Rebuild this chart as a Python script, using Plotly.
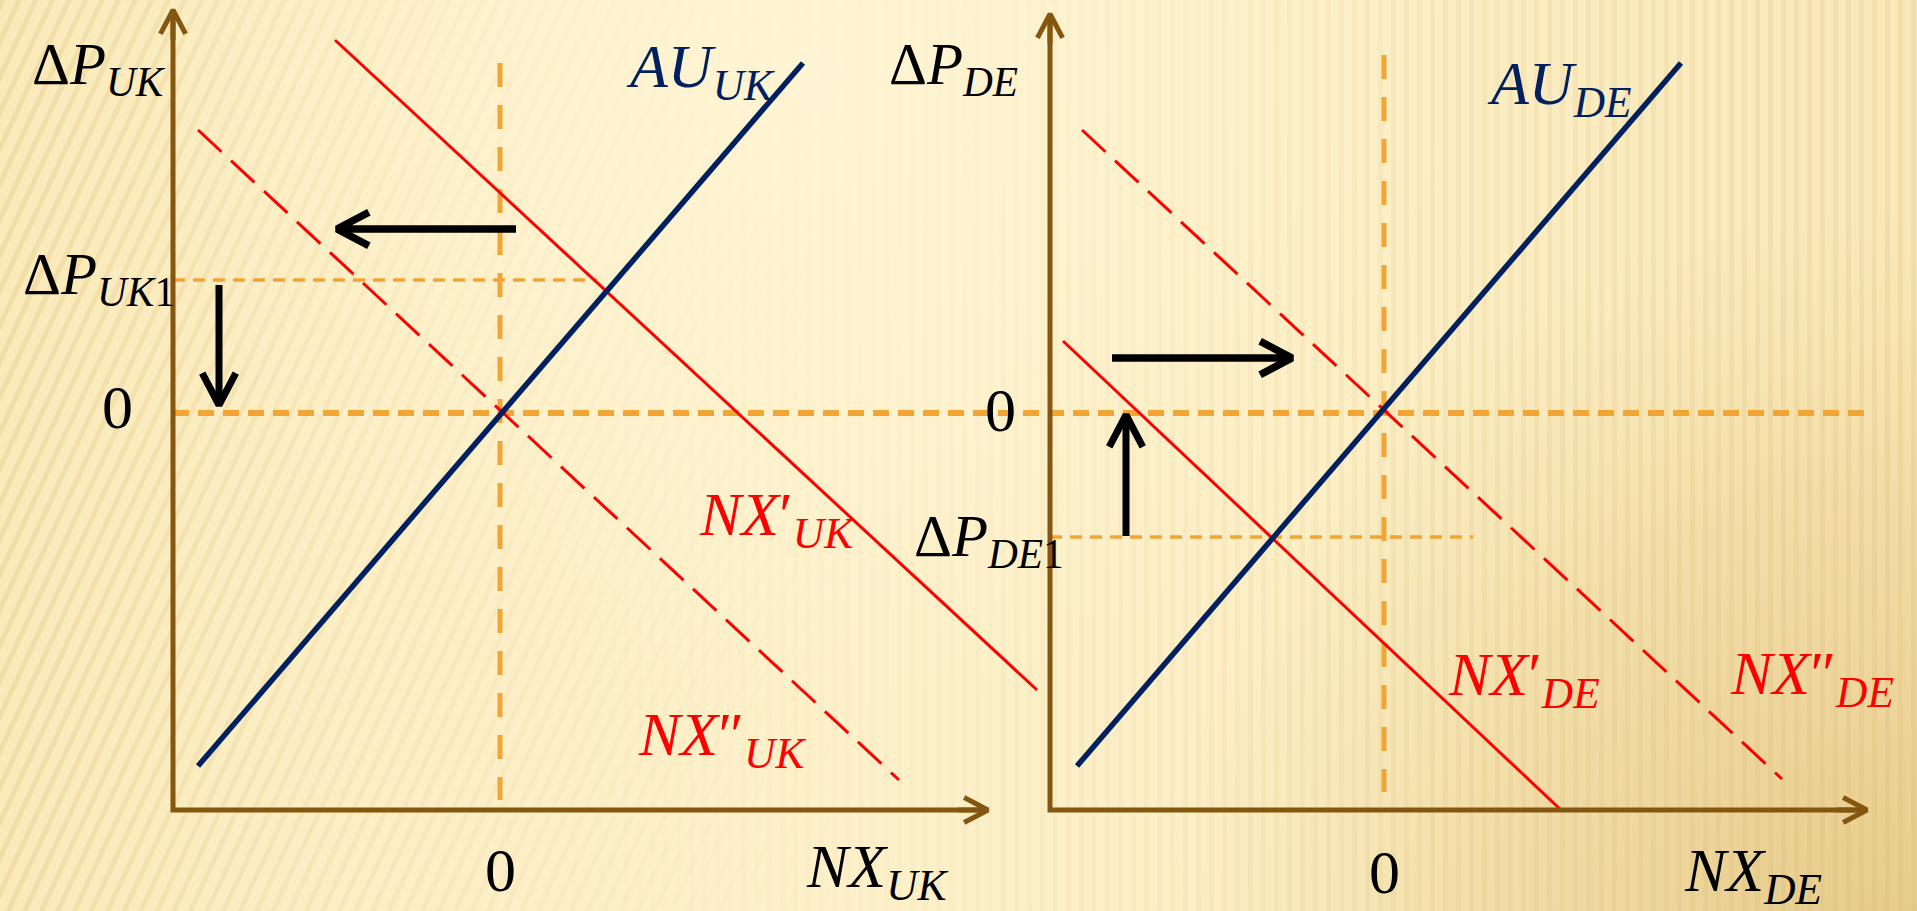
import base64
import plotly.graph_objects as go

# ---------------------------------------------------------------------------
# DATA  (diagram units; each panel has its own origin
#        at the point NX = 0, dP = 0; one unit is the same length on x and y)
# ---------------------------------------------------------------------------
# --- UK panel ---
uk_axis_x = [-3.27, -3.27, 4.88]          # y-axis top -> corner -> x-axis end
uk_axis_y = [4.03, -3.97, -3.97]
au_uk_x = [-3.02, 3.03]
au_uk_y = [-3.53, 3.50]
nx1_uk_x = [-1.65, 5.37]                  # NX'_UK (solid)
nx1_uk_y = [3.73, -2.77]
nx2_uk_x = [-3.02, 3.99]                  # NX''_UK (dashed)
nx2_uk_y = [2.83, -3.67]
uk_zero_v_y = [3.50, -3.87]               # NX_UK = 0 guide
zero_h_x = [-3.27, 13.69]                 # dP = 0 guide (runs across both panels)
dp_uk1 = 1.33                              # dP_UK1 level
dp_uk1_x = [-3.27, 0.97]
uk_shift_x = [0.16, -1.63]                # NX curve shift arrow (left)
uk_shift_y = 1.84
uk_price_x = -2.81                        # price change arrow (down)
uk_price_y = [1.28, 0.08]

# --- DE panel ---
de_axis_x = [-3.34, -3.34, 4.83]
de_axis_y = [3.99, -3.97, -3.97]
au_de_x = [-3.07, 2.97]
au_de_y = [-3.53, 3.50]
nx1_de_x = [-3.21, 1.77]                  # NX'_DE (solid)
nx1_de_y = [0.72, -3.97]
nx2_de_x = [-3.02, 3.98]                  # NX''_DE (dashed)
nx2_de_y = [2.83, -3.66]
de_zero_v_y = [3.58, -3.79]
dp_de1 = -1.24                             # dP_DE1 level
dp_de1_x = [-3.34, 0.89]
de_shift_x = [-2.72, -0.92]               # NX curve shift arrow (right)
de_shift_y = 0.55
de_price_x = -2.58                        # price change arrow (up)
de_price_y = [-1.23, -0.02]

# ---------------------------------------------------------------------------
# STYLE
# ---------------------------------------------------------------------------
W, H = 1917, 911
BROWN = "#84560F"
ORANGE = "#F0A535"
RED = "#FF0000"
NAVY = "#002060"
FONT = "Liberation Serif, DejaVu Serif, serif"

# background: cream gradient with fine stripes (PowerPoint-like theme)
svg = f'''<svg xmlns="http://www.w3.org/2000/svg" width="{W}" height="{H}" viewBox="0 0 {W} {H}">
<defs>
<linearGradient id="base" x1="0" y1="0" x2="1" y2="0">
<stop offset="0" stop-color="#FAEABA"/>
<stop offset="0.15" stop-color="#FCEEC4"/>
<stop offset="0.40" stop-color="#FDF1CB"/>
<stop offset="0.70" stop-color="#FCEFC6"/>
<stop offset="1" stop-color="#F9E8B9"/>
</linearGradient>
<radialGradient id="dark" gradientUnits="userSpaceOnUse" cx="1880" cy="930" r="720">
<stop offset="0" stop-color="#E4C886" stop-opacity="0.9"/>
<stop offset="0.6" stop-color="#EAD194" stop-opacity="0.5"/>
<stop offset="1" stop-color="#EED9A0" stop-opacity="0"/>
</radialGradient>
<radialGradient id="glow" gradientUnits="userSpaceOnUse" cx="800" cy="80" r="650">
<stop offset="0" stop-color="#FFF6D6" stop-opacity="0.8"/>
<stop offset="1" stop-color="#FFF6D6" stop-opacity="0"/>
</radialGradient>
<pattern id="diag" width="15" height="40" patternUnits="userSpaceOnUse" patternTransform="rotate(25)">
<rect x="0" y="0" width="5" height="40" fill="#D2AE5E"/>
</pattern>
<pattern id="vert" width="13" height="40" patternUnits="userSpaceOnUse">
<rect x="0" y="0" width="5" height="40" fill="#D2AE5E"/>
</pattern>
<linearGradient id="gL" x1="0" y1="0" x2="1" y2="0">
<stop offset="0" stop-color="#ffffff"/>
<stop offset="0.12" stop-color="#aaaaaa"/>
<stop offset="0.45" stop-color="#000000"/>
</linearGradient>
<linearGradient id="gR" x1="0" y1="0" x2="1" y2="0">
<stop offset="0.25" stop-color="#000000"/>
<stop offset="0.6" stop-color="#888888"/>
<stop offset="1" stop-color="#ffffff"/>
</linearGradient>
<mask id="mL"><rect width="{W}" height="{H}" fill="url(#gL)"/></mask>
<mask id="mR"><rect width="{W}" height="{H}" fill="url(#gR)"/></mask>
</defs>
<rect width="{W}" height="{H}" fill="url(#base)"/>
<rect width="{W}" height="{H}" fill="url(#dark)"/>
<rect width="{W}" height="{H}" fill="url(#diag)" opacity="0.22" mask="url(#mL)"/>
<rect width="{W}" height="{H}" fill="url(#vert)" opacity="0.17" mask="url(#mR)"/>
<rect width="{W}" height="{H}" fill="url(#glow)"/>
</svg>'''
bg_src = "data:image/svg+xml;base64," + base64.b64encode(svg.encode()).decode()

fig = go.Figure()


def line(xs, ys, color, width, dash="solid", xa="x"):
    fig.add_trace(go.Scatter(x=xs, y=ys, mode="lines", xaxis=xa, yaxis="y",
                             line=dict(color=color, width=width, dash=dash),
                             hoverinfo="skip", showlegend=False))


def arrow(x0, y0, x1, y1, color, width, head, xa="x"):
    """Shaft from (x0,y0) to tip (x1,y1) with an open chevron head."""
    dx, dy = x1 - x0, y1 - y0
    n = (dx * dx + dy * dy) ** 0.5
    ux, uy = dx / n, dy / n
    c, s = 0.885, 0.466          # cos / sin of the half-angle of the head
    ax1 = x1 - head * (ux * c - uy * s)
    ay1 = y1 - head * (uy * c + ux * s)
    ax2 = x1 - head * (ux * c + uy * s)
    ay2 = y1 - head * (uy * c - ux * s)
    line([x0, x1], [y0, y1], color, width, xa=xa)
    line([ax1, x1, ax2], [ay1, y1, ay2], color, width, xa=xa)


# ----- guides (orange dashed) -----
line(zero_h_x, [0, 0], ORANGE, 6, "16px,9px")
line([0, 0], uk_zero_v_y, ORANGE, 5, "24px,18px")
line([0, 0], de_zero_v_y, ORANGE, 5, "24px,18px", xa="x2")
line(dp_uk1_x, [dp_uk1, dp_uk1], ORANGE, 3.5, "12px,8px")
line(dp_de1_x, [dp_de1, dp_de1], ORANGE, 3.5, "12px,8px", xa="x2")

# ----- curves -----
line(nx1_uk_x, nx1_uk_y, RED, 3)
line(nx2_uk_x, nx2_uk_y, RED, 3, "32px,13px")
line(au_uk_x, au_uk_y, NAVY, 5.5)
line(nx1_de_x, nx1_de_y, RED, 3, xa="x2")
line(nx2_de_x, nx2_de_y, RED, 3, "32px,13px", xa="x2")
line(au_de_x, au_de_y, NAVY, 5.5, xa="x2")

# ----- axes with arrow heads -----
line(uk_axis_x, uk_axis_y, BROWN, 5)
arrow(uk_axis_x[0], uk_axis_y[0] - 0.3, uk_axis_x[0], uk_axis_y[0], BROWN, 5, 0.27)
arrow(uk_axis_x[2] - 0.3, uk_axis_y[2], uk_axis_x[2], uk_axis_y[2], BROWN, 5, 0.27)
line(de_axis_x, de_axis_y, BROWN, 5, xa="x2")
arrow(de_axis_x[0], de_axis_y[0] - 0.3, de_axis_x[0], de_axis_y[0], BROWN, 5, 0.27, xa="x2")
arrow(de_axis_x[2] - 0.3, de_axis_y[2], de_axis_x[2], de_axis_y[2], BROWN, 5, 0.27, xa="x2")

# ----- black shift arrows -----
arrow(uk_shift_x[0], uk_shift_y, uk_shift_x[1], uk_shift_y, "black", 7.5, 0.36)
arrow(uk_price_x, uk_price_y[0], uk_price_x, uk_price_y[1], "black", 7, 0.36)
arrow(de_shift_x[0], de_shift_y, de_shift_x[1], de_shift_y, "black", 7.5, 0.36, xa="x2")
arrow(de_price_x, de_price_y[0], de_price_x, de_price_y[1], "black", 7, 0.36, xa="x2")

# ----- labels -----
def label(text, x, y, size, color="black", xa="x", xanchor="left"):
    fig.add_annotation(text=text, x=x, y=y, xref=xa, yref="y", showarrow=False,
                       xanchor=xanchor, yanchor="top",
                       font=dict(family=FONT, size=size, color=color))


it = lambda s: f"<i>{s}</i>"
# UK panel
label("Δ" + it("P") + "<sub>" + it("UK") + "</sub>", -4.70, 3.84, 59)
label(it("AU") + "<sub>" + it("UK") + "</sub>", 1.24, 3.83, 62, NAVY)
label("Δ" + it("P") + "<sub>" + it("UK") + "1</sub>", -4.79, 1.74, 59)
label("0", -3.83, 0.42, 62, xanchor="center")
label("0", 0.0, -4.21, 62, xanchor="center")
label(it("NX") + "<sub>" + it("UK") + "</sub>", 3.04, -4.17, 62)
label(it("NX") + "′<sub>" + it("UK") + "</sub>", 1.97, -0.65, 62, RED)
label(it("NX") + "″<sub>" + it("UK") + "</sub>", 1.36, -2.85, 62, RED)
# DE panel
label("Δ" + it("P") + "<sub>" + it("DE") + "</sub>", -4.97, 3.84, 59, xa="x2")
label(it("AU") + "<sub>" + it("DE") + "</sub>", 1.01, 3.66, 62, NAVY, xa="x2")
label("0", -3.84, 0.39, 62, xa="x2", xanchor="center")
label("Δ" + it("P") + "<sub>" + it("DE") + "1</sub>", -4.72, -0.88, 59, xa="x2")
label(it("NX") + "′<sub>" + it("DE") + "</sub>", 0.62, -2.25, 62, RED, xa="x2")
label(it("NX") + "″<sub>" + it("DE") + "</sub>", 3.44, -2.24, 62, RED, xa="x2")
label("0", 0.0, -4.23, 62, xa="x2", xanchor="center")
label(it("NX") + "<sub>" + it("DE") + "</sub>", 2.98, -4.21, 62, xa="x2")

# ----- layout: both panels share the y scale; x axes overlay, equal units -----
ax_common = dict(visible=False, showgrid=False, zeroline=False, fixedrange=True)
fig.update_layout(
    width=W, height=H, margin=dict(l=0, r=0, t=0, b=0),
    paper_bgcolor="#FCEFC5", plot_bgcolor="rgba(0,0,0,0)",
    xaxis=dict(range=[-5.00, 14.17], domain=[0, 1], **ax_common),
    xaxis2=dict(range=[-13.84, 5.33], domain=[0, 1], overlaying="x", **ax_common),
    yaxis=dict(range=[-4.98, 4.13], domain=[0, 1], **ax_common),
    images=[dict(source=bg_src, xref="paper", yref="paper", x=0, y=1,
                 sizex=1, sizey=1, sizing="stretch", layer="below",
                 xanchor="left", yanchor="top")],
    showlegend=False,
)

fig.write_html("out.html", config={"displayModeBar": False},
               post_script="document.body.style.margin='0px';"
                           "document.body.style.overflow='hidden';")
